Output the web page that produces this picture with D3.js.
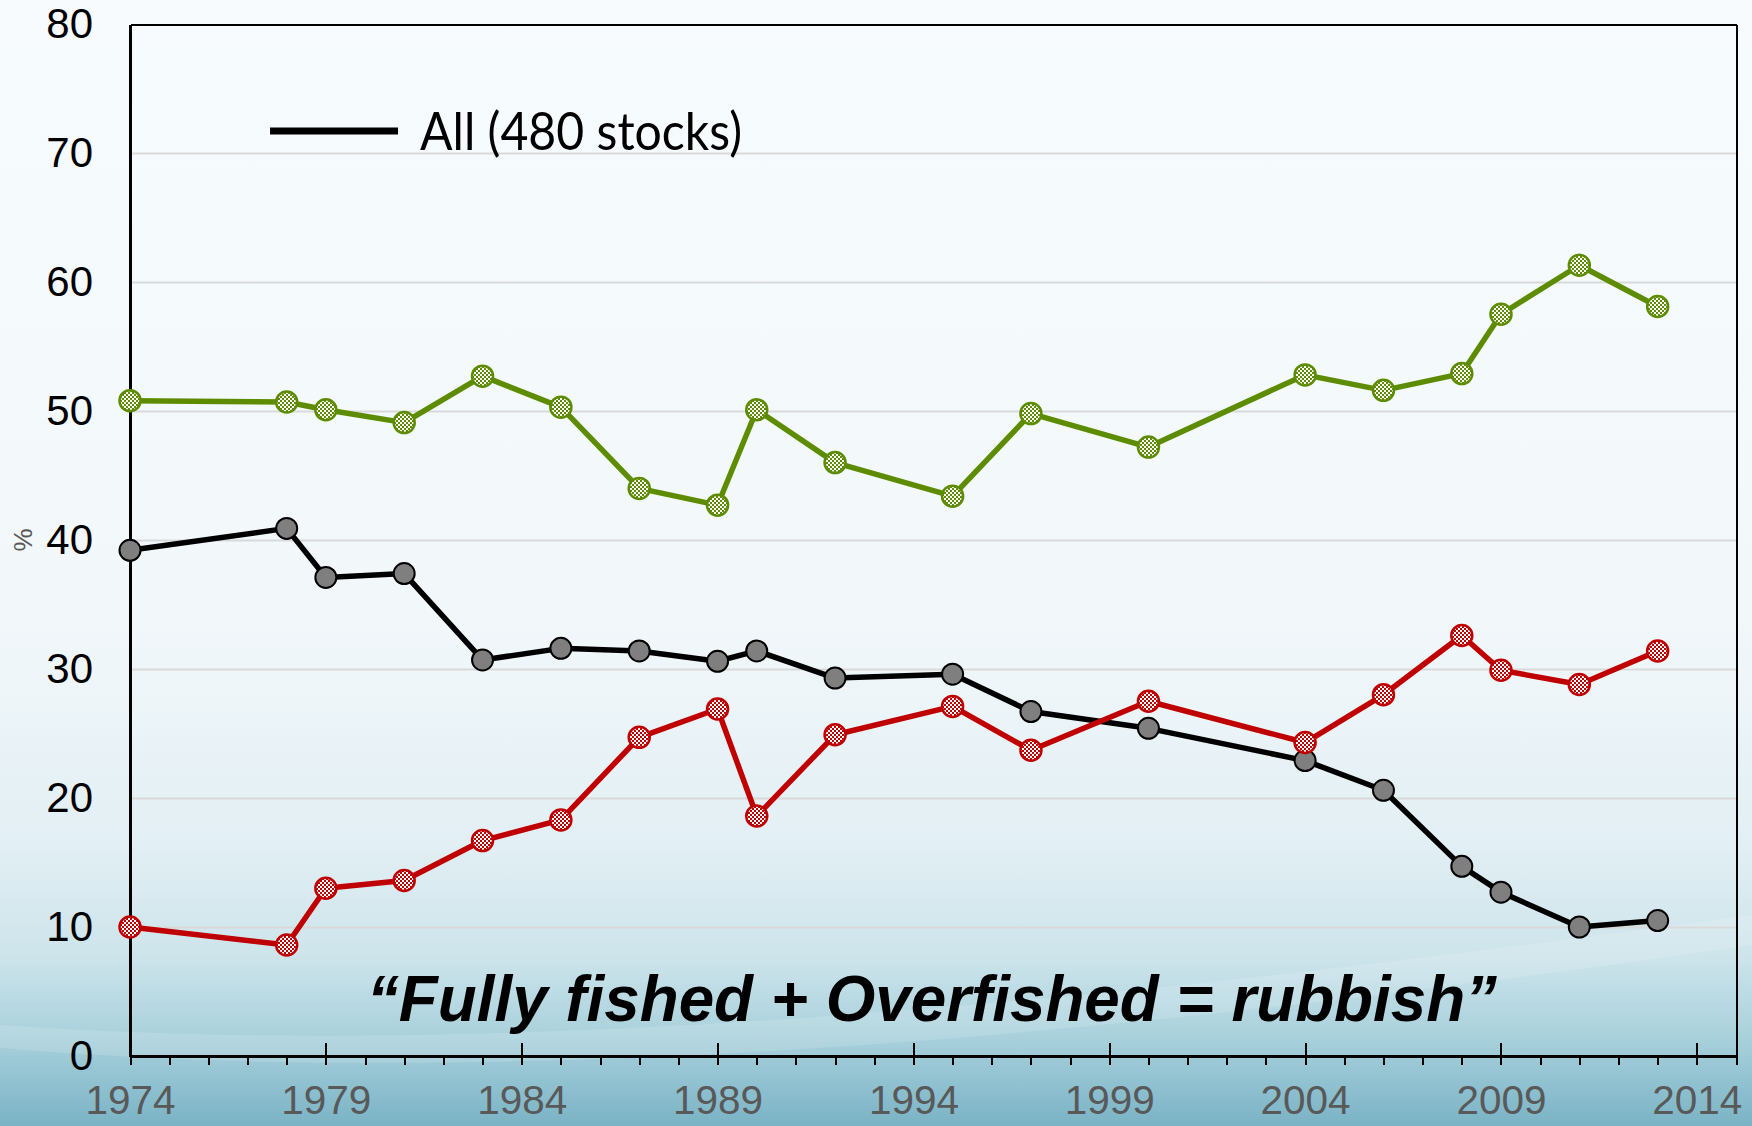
<!DOCTYPE html>
<html lang="en">
<head>
  <meta charset="UTF-8">
  <title>Stocks chart</title>
  <script src="https://d3js.org/d3.v7.min.js"></script>
  <style>
    body { margin: 0; }
    svg { display: block; }
    .axis path, .axis line { fill: none; stroke: #000; shape-rendering: crispEdges; }
    .grid line { stroke: #d9d9d9; stroke-width: 2; }
    .grid path { display: none; }
  </style>
</head>
<body>
  <svg width="1752" height="1126"></svg>

  <script>
    // data
    const years = [1974, 1978, 1979, 1981, 1983, 1985, 1987, 1989, 1990, 1992,
                   1995, 1997, 2000, 2004, 2006, 2008, 2009, 2011, 2013];
    const allValues   = [39.2, 40.9, 37.1, 37.4, 30.7, 31.6, 31.4, 30.6, 31.4, 29.3,
                         29.6, 26.7, 25.4, 22.9, 20.6, 14.7, 12.7, 10.0, 10.5];
    const greenValues = [50.8, 50.7, 50.1, 49.1, 52.7, 50.3, 44.0, 42.7, 50.1, 46.0,
                         43.4, 49.8, 47.2, 52.8, 51.6, 52.9, 57.5, 61.3, 58.1];
    const redValues   = [10.0, 8.6, 13.0, 13.6, 16.7, 18.3, 24.7, 26.9, 18.6, 24.9,
                         27.1, 23.7, 27.5, 24.3, 28.0, 32.6, 29.9, 28.8, 31.4];
    const majorYears = [1974, 1979, 1984, 1989, 1994, 1999, 2004, 2009, 2014];
    const yTicks = [0, 10, 20, 30, 40, 50, 60, 70, 80];
    const legendLabel = "All (480 stocks)";
    const noteText = "\u201CFully fished + Overfished = rubbish\u201D";

    const svgWidth = 1752;
    const svgHeight = 1126;
    const margin = { top: 24, right: 16, bottom: 70, left: 130 };
    const width = svgWidth - margin.left - margin.right;
    const height = svgHeight - margin.top - margin.bottom;

    const svg = d3.select("svg");
    const defs = svg.append("defs");

    // page background
    const bg = defs.append("linearGradient")
      .attr("id", "bg").attr("x1", 0).attr("y1", 0).attr("x2", 0).attr("y2", 1);
    [[0, "#f7fbfd"], [0.55, "#f2f8fa"], [0.75, "#e2eff4"], [0.85, "#cde4eb"],
     [0.92, "#a9d1dc"], [1, "#7ab3c5"]].forEach(s => {
      bg.append("stop").attr("offset", s[0]).attr("stop-color", s[1]);
    });
    svg.append("rect").attr("width", svgWidth).attr("height", svgHeight).attr("fill", "url(#bg)");
    // soft light streak across the bottom
    svg.append("path")
      .attr("d", "M0,1025 C500,1060 1100,1005 1752,915 L1752,945 C1100,1040 500,1090 0,1048 Z")
      .attr("fill", "#ffffff").attr("opacity", 0.14);

    // checkered fills for the markers
    function checker(id, color) {
      const p = defs.append("pattern")
        .attr("id", id).attr("width", 4).attr("height", 4)
        .attr("patternUnits", "userSpaceOnUse");
      p.append("rect").attr("width", 4).attr("height", 4).attr("fill", color);
      p.append("rect").attr("width", 2).attr("height", 2).attr("fill", "#fff");
      p.append("rect").attr("x", 2).attr("y", 2).attr("width", 2).attr("height", 2).attr("fill", "#fff");
    }
    checker("chkGreen", "#5e8c00");
    checker("chkRed", "#c00000");

    const g = svg.append("g").attr("transform", `translate(${margin.left},${margin.top})`);

    const x = d3.scaleLinear().domain([1974, 2015]).range([0, width]);
    const y = d3.scaleLinear().domain([0, 80]).range([height, 0]);

    // gridlines
    g.append("g").attr("class", "grid")
      .call(d3.axisLeft(y).tickValues(yTicks.filter(v => v > 0 && v < 80))
        .tickSize(-width).tickFormat(""));

    // frame top and right
    g.append("g").attr("class", "axis")
      .call(d3.axisTop(x).tickValues([]).tickSizeOuter(0))
      .select("path").attr("stroke-width", 2);
    g.append("g").attr("class", "axis")
      .attr("transform", `translate(${width},0)`)
      .call(d3.axisRight(y).tickValues([]).tickSizeOuter(0))
      .select("path").attr("stroke-width", 2);

    // y axis
    const yAxis = g.append("g").attr("class", "axis")
      .call(d3.axisLeft(y).tickValues(yTicks).tickSize(0).tickPadding(37).tickSizeOuter(0));
    yAxis.select("path").attr("stroke-width", 2.5);
    yAxis.selectAll("text")
      .attr("font-family", "'Liberation Sans', Arial, sans-serif")
      .attr("font-size", 42).attr("fill", "#000");

    // x axis: minor ticks every year
    const xMinor = g.append("g").attr("class", "axis")
      .attr("transform", `translate(0,${height})`)
      .call(d3.axisBottom(x).tickValues(d3.range(1974, 2016)).tickSize(9)
        .tickFormat("").tickSizeOuter(0));
    xMinor.select("path").attr("stroke-width", 3);
    xMinor.selectAll("line").attr("stroke-width", 2);

    // major ticks cross the axis
    g.append("g").attr("class", "axis")
      .attr("transform", `translate(0,${height})`)
      .call(d3.axisTop(x).tickValues(majorYears.slice(1)).tickSize(13)
        .tickFormat("").tickSizeOuter(0))
      .call(a => a.select("path").remove())
      .selectAll("line").attr("stroke-width", 2);

    const xLabels = g.append("g").attr("class", "axis")
      .attr("transform", `translate(0,${height})`)
      .call(d3.axisBottom(x).tickValues(majorYears).tickSize(9).tickPadding(21)
        .tickFormat(d3.format("d")).tickSizeOuter(0));
    xLabels.select("path").remove();
    xLabels.selectAll("line").attr("stroke-width", 2);
    xLabels.selectAll("text")
      .attr("font-family", "'Liberation Sans Narrow', 'Liberation Sans', Arial, sans-serif")
      .attr("font-size", 40).attr("fill", "#595959")
      .attr("textLength", 90).attr("lengthAdjust", "spacingAndGlyphs");

    // "%" axis title
    svg.append("text")
      .attr("transform", "translate(23,540) rotate(-90)")
      .attr("text-anchor", "middle").attr("dy", "0.35em")
      .attr("font-family", "'Liberation Sans', Arial, sans-serif")
      .attr("font-size", 26).attr("fill", "#595959")
      .text("%");

    // series
    const line = d3.line().x(d => x(d.year)).y(d => y(d.value));
    const series = [
      { values: allValues, stroke: "#000", fill: "#7f7f7f", edge: "#000", edgeW: 2 },
      { values: greenValues, stroke: "#5e8c00", fill: "url(#chkGreen)", edge: "#5e8c00", edgeW: 2.5 },
      { values: redValues, stroke: "#c00000", fill: "url(#chkRed)", edge: "#c00000", edgeW: 2.5 }
    ];
    series.forEach(s => {
      const pts = years.map((yr, i) => ({ year: yr, value: s.values[i] }));
      const sg = g.append("g");
      sg.append("path").datum(pts)
        .attr("d", line).attr("fill", "none")
        .attr("stroke", s.stroke).attr("stroke-width", 5.5)
        .attr("stroke-linejoin", "round");
      sg.selectAll("circle").data(pts).enter().append("circle")
        .attr("cx", d => x(d.year)).attr("cy", d => y(d.value)).attr("r", 10.5)
        .attr("fill", s.fill).attr("stroke", s.edge).attr("stroke-width", s.edgeW);
    });

    // legend
    svg.append("line")
      .attr("x1", 270).attr("x2", 398).attr("y1", 131).attr("y2", 131)
      .attr("stroke", "#000").attr("stroke-width", 7);
    svg.append("text")
      .attr("x", 420).attr("y", 150)
      .attr("font-family", "Lato, 'Open Sans', sans-serif")
      .attr("font-size", 52).attr("fill", "#000")
      .attr("textLength", 322).attr("lengthAdjust", "spacingAndGlyphs")
      .text(legendLabel);

    // annotation
    svg.append("text")
      .attr("x", 367).attr("y", 1021)
      .attr("font-family", "'Liberation Sans Narrow', 'Liberation Sans', Arial, sans-serif")
      .attr("font-weight", "bold").attr("font-style", "italic")
      .attr("font-size", 65).attr("fill", "#000")
      .attr("textLength", 1130).attr("lengthAdjust", "spacingAndGlyphs")
      .text(noteText);
  </script>
</body>
</html>
